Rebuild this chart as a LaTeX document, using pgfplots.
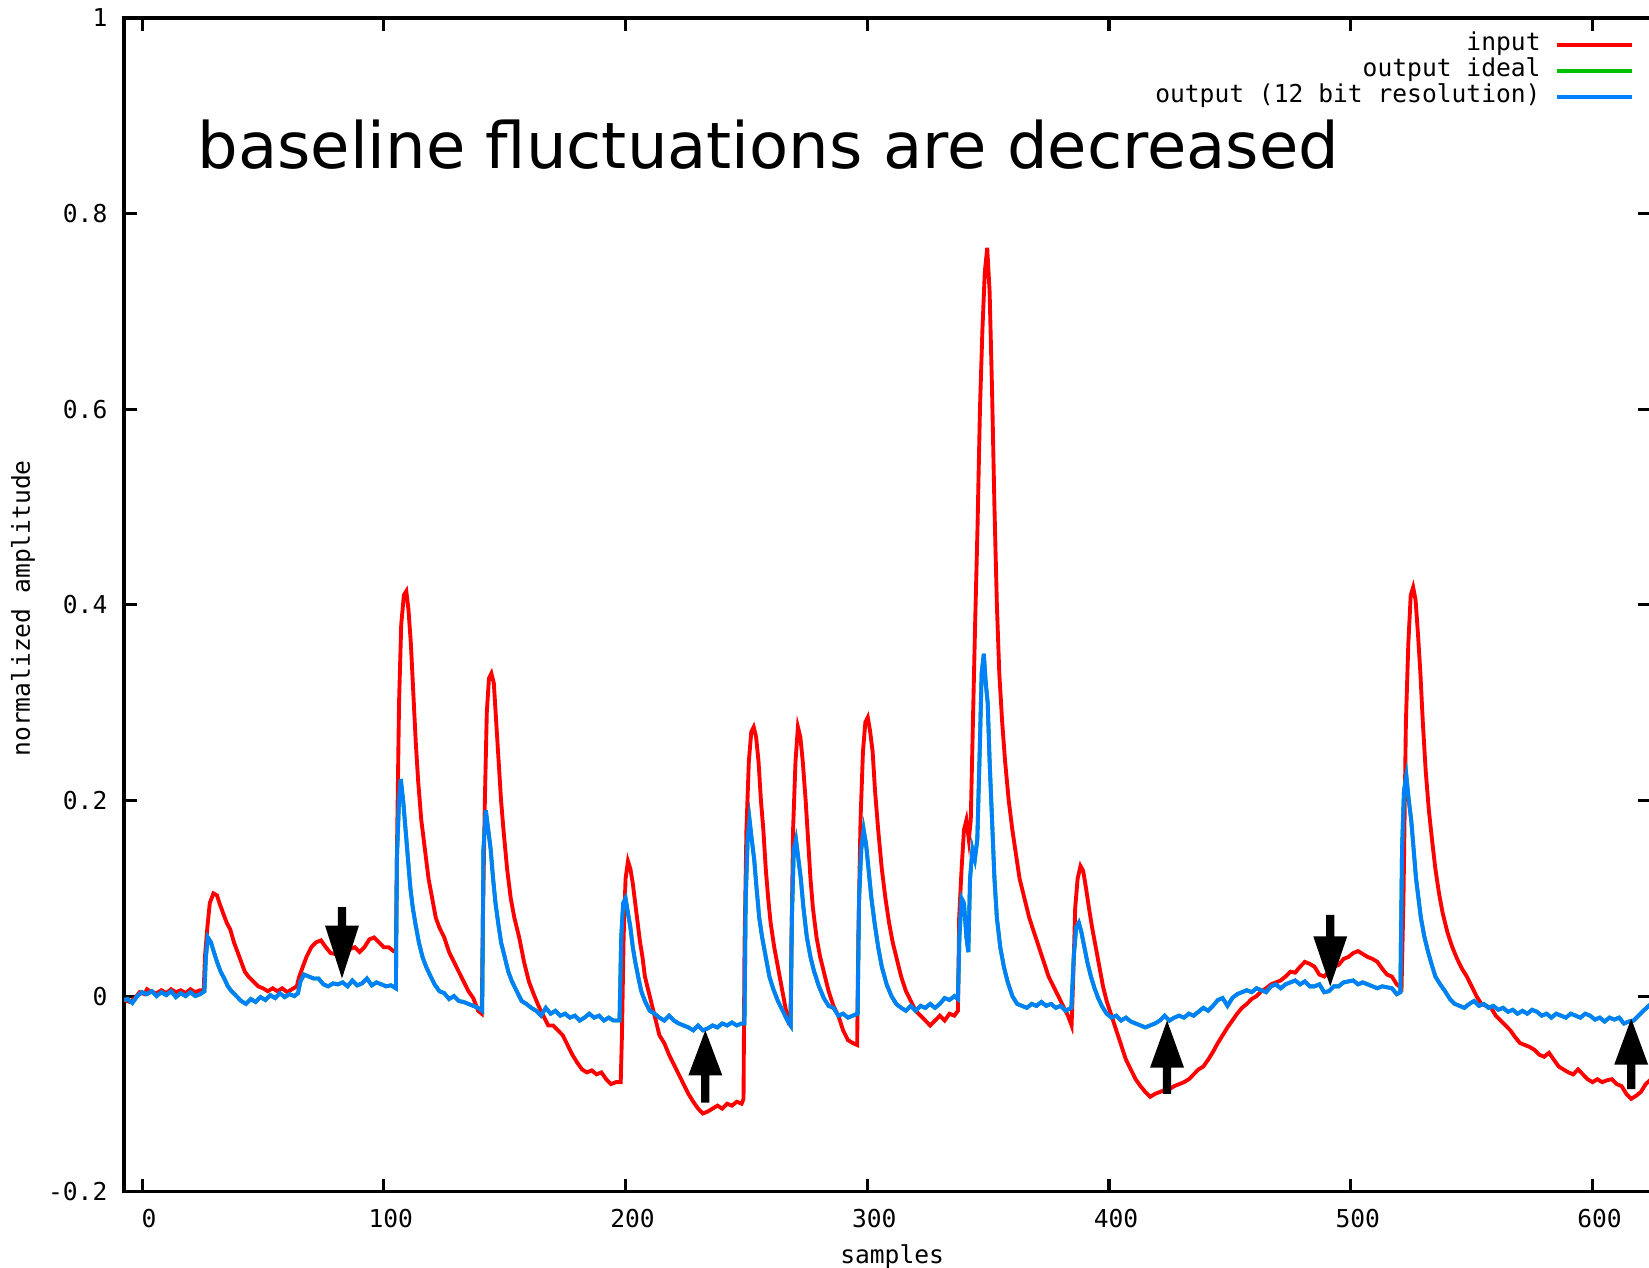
\documentclass[border=0pt]{standalone}
\usepackage{fontspec}
\setmainfont{DejaVu Sans Mono}
\newfontfamily\annot{DejaVu Sans}
\usepackage{pgfplots}
\usepackage{pgfplotstable}
\pgfplotsset{compat=1.18}

\definecolor{gpred}{RGB}{255,0,0}
\definecolor{gpgreen}{RGB}{0,192,0}
\definecolor{gpblue}{RGB}{0,128,255}

% input signal
\pgfplotstableread{
x y
-7.4 -0.004
-5 -0.006
-3 -0.002
-1 0.004
1 0.002
2 0.007
4 0.004
6 0.003
8 0.006
10 0.003
12 0.007
14 0.004
16 0.006
18 0.003
20 0.007
22 0.004
24 0.006
25.5 0.006
26 0.04
27 0.07
28 0.095
29.5 0.105
31 0.103
32 0.095
33.5 0.085
35 0.075
36.5 0.068
38 0.055
39.5 0.045
41 0.035
42.5 0.025
44 0.02
46 0.015
48 0.01
50 0.008
52 0.005
54 0.008
56 0.005
58 0.008
60 0.004
62 0.007
64 0.01
65 0.02
66.5 0.03
68 0.04
70 0.05
72 0.055
74 0.057
76 0.05
78 0.044
80 0.043
82 0.045
84 0.042
86 0.048
88 0.05
90 0.045
92 0.05
94 0.058
96 0.06
98 0.055
100 0.05
102 0.05
104 0.046
105 0.045
105.5 0.16
106.3 0.3
107.2 0.38
108.3 0.41
109.3 0.414
110.2 0.395
111.2 0.36
112.2 0.31
113.2 0.26
114.2 0.22
115.5 0.18
117 0.15
118.5 0.12
120 0.1
121.5 0.08
123 0.07
125 0.06
127 0.045
129 0.035
131 0.025
133 0.015
135 0.005
137 -0.002
139 -0.015
140.5 -0.018
141 0.08
141.8 0.2
142.6 0.29
143.5 0.325
144.5 0.33
145.5 0.32
146.5 0.28
147.5 0.24
148.5 0.2
149.5 0.17
151 0.13
152.5 0.1
154 0.08
156 0.06
158 0.035
160 0.015
162 0.002
164 -0.01
166 -0.02
168 -0.03
170 -0.03
172 -0.035
174 -0.04
176 -0.05
178 -0.06
180 -0.068
182 -0.075
184 -0.078
186 -0.076
188 -0.08
190 -0.078
192 -0.085
194 -0.09
196 -0.088
198 -0.088
198.5 -0.04
199.2 0.06
200 0.12
201 0.138
202 0.13
203 0.115
204 0.095
205 0.075
206 0.055
207 0.04
208 0.02
209.5 0.005
211 -0.01
212.5 -0.025
214 -0.04
216 -0.048
218 -0.06
220 -0.07
222 -0.08
224 -0.09
226 -0.1
228 -0.108
230 -0.115
232 -0.12
234 -0.118
236 -0.115
238 -0.112
240 -0.115
242 -0.11
244 -0.112
246 -0.108
248 -0.11
248.8 -0.105
249.2 0.05
250 0.17
251 0.24
252 0.27
253 0.275
254 0.265
255 0.24
256 0.2
257 0.17
258 0.13
259 0.1
260 0.075
261.5 0.05
263 0.03
264.5 0.01
266 -0.01
267.5 -0.028
268.2 -0.03
268.6 0.05
269.3 0.17
270.3 0.24
271.3 0.275
272.3 0.265
273.3 0.24
274.5 0.2
275.5 0.16
276.5 0.12
277.5 0.09
279 0.06
280.5 0.04
282 0.025
284 0.005
286 -0.01
288 -0.02
290 -0.035
292 -0.045
294 -0.048
295.8 -0.05
296.3 0.06
297.2 0.18
298.2 0.25
299.2 0.28
300.2 0.285
301.2 0.27
302.2 0.25
303.2 0.21
304.5 0.17
306 0.13
307.5 0.1
309 0.075
310.5 0.055
312 0.04
314 0.02
316 0.005
318 -0.005
320 -0.015
322 -0.02
324 -0.025
326 -0.03
328 -0.025
330 -0.02
332 -0.025
334 -0.018
336 -0.02
337.5 -0.015
338 0.08
339 0.13
340 0.17
341 0.18
342 0.16
342.8 0.18
343.6 0.27
344.6 0.38
345.6 0.48
346.6 0.6
347.6 0.68
348.6 0.74
349.6 0.765
350.6 0.72
351.6 0.62
352.6 0.5
353.6 0.4
354.6 0.33
355.8 0.28
357 0.24
358.5 0.2
360 0.17
361.5 0.145
363 0.12
365 0.1
367 0.08
369 0.065
371 0.05
373 0.035
375 0.02
377 0.01
379 0.0
381 -0.01
383 -0.02
384.5 -0.03
385.2 0.02
386 0.09
387 0.12
388.2 0.133
389.3 0.128
390.5 0.11
391.7 0.09
393 0.07
394.5 0.05
396 0.03
397.5 0.01
399 -0.005
401 -0.02
403 -0.035
405 -0.05
407 -0.065
409 -0.075
411 -0.085
413 -0.092
415 -0.098
417 -0.103
419 -0.1
421 -0.098
423 -0.096
425 -0.095
427 -0.092
429 -0.09
431 -0.088
433 -0.085
435 -0.08
437 -0.075
439 -0.072
441 -0.065
443 -0.057
445 -0.048
447 -0.04
449 -0.032
451 -0.025
453 -0.018
455 -0.012
457 -0.008
459 -0.003
461 0.0
463 0.005
465 0.008
467 0.012
469 0.014
471 0.016
473 0.02
475 0.025
477 0.024
479 0.03
481 0.035
483 0.033
485 0.03
487 0.022
489 0.02
491 0.025
493 0.03
495 0.032
497 0.038
499 0.04
501 0.044
503 0.046
505 0.043
507 0.04
509 0.038
511 0.035
513 0.028
515 0.022
517 0.02
519 0.012
521 0.008
521.8 0.1
522.8 0.28
523.8 0.36
524.8 0.41
525.8 0.418
526.8 0.405
527.8 0.37
528.8 0.33
529.8 0.28
531 0.23
532.3 0.19
533.6 0.16
535 0.13
536.5 0.105
538 0.085
540 0.065
542 0.05
544 0.038
546 0.028
548 0.02
550 0.01
552 0.0
554 -0.008
556 -0.01
558 -0.012
560 -0.02
562 -0.025
564 -0.03
566 -0.035
568 -0.042
570 -0.048
572 -0.05
574 -0.052
576 -0.055
578 -0.06
580 -0.062
582 -0.058
584 -0.065
586 -0.072
588 -0.075
590 -0.078
592 -0.08
594 -0.075
596 -0.08
598 -0.085
600 -0.088
602 -0.085
604 -0.088
606 -0.086
608 -0.085
610 -0.09
612 -0.092
614 -0.1
616 -0.105
618 -0.102
620 -0.098
622 -0.09
624.2 -0.085
}\inputdata

% output, 12 bit resolution (ideal output lies under it)
\pgfplotstableread{
x y
-7.4 -0.004
-6 -0.003
-4 -0.007
-2 0.0
0 0.004
2 0.002
4 0.005
6 0.0
8 0.004
10 0.001
12 0.005
14 -0.001
16 0.003
18 0.0
20 0.004
22 0.0
24 0.002
25.8 0.005
26.4 0.04
27.2 0.06
28.5 0.055
29.7 0.045
31 0.035
32.5 0.025
34 0.018
35.5 0.01
37 0.005
39 0.0
41 -0.005
43 -0.008
45 -0.003
47 -0.006
49 -0.001
51 -0.004
53 0.001
55 -0.002
57 0.003
59 -0.001
61 0.002
63 0.0
64.5 0.003
65.5 0.015
67 0.022
69 0.02
71 0.018
73 0.018
75 0.012
77 0.01
79 0.013
81 0.012
83 0.014
85 0.01
87 0.016
89 0.011
91 0.013
93 0.018
95 0.011
97 0.014
99 0.012
101 0.01
103 0.011
105 0.008
105.4 0.14
106.3 0.2
107 0.222
108 0.2
109 0.17
110 0.14
111 0.11
112 0.09
113 0.075
114.5 0.055
116 0.04
117.5 0.03
119 0.022
121 0.012
123 0.005
125 0.003
127 -0.003
129 0.0
131 -0.005
133 -0.006
135 -0.008
137 -0.01
139 -0.012
140.7 -0.015
141.2 0.15
142.2 0.19
143.2 0.17
144.2 0.15
145.2 0.12
146.2 0.095
147.3 0.075
148.5 0.055
150 0.04
151.5 0.025
153 0.015
155 0.005
157 -0.005
159 -0.008
161 -0.012
163 -0.015
165 -0.02
167 -0.012
169 -0.018
171 -0.015
173 -0.02
175 -0.018
177 -0.022
179 -0.02
181 -0.025
183 -0.022
185 -0.018
187 -0.022
189 -0.02
191 -0.025
193 -0.022
195 -0.025
197.5 -0.025
198.2 0.06
199 0.095
200 0.1
201 0.085
202 0.07
203 0.05
204 0.035
205.2 0.02
206.5 0.005
208 -0.005
210 -0.015
212 -0.018
214 -0.022
216 -0.025
218 -0.02
220 -0.025
222 -0.028
224 -0.03
226 -0.032
228 -0.035
230 -0.03
232 -0.035
234 -0.033
236 -0.03
238 -0.032
240 -0.028
242 -0.03
244 -0.027
246 -0.03
248 -0.028
249.2 -0.028
249.7 0.1
250.5 0.16
251.3 0.18
252.2 0.16
253.2 0.14
254.2 0.11
255.3 0.08
256.5 0.06
258 0.04
259.5 0.02
261 0.008
263 -0.005
265 -0.015
267 -0.025
268.3 -0.03
268.8 0.08
269.6 0.15
270.5 0.16
271.5 0.14
272.5 0.12
273.6 0.09
275 0.06
276.5 0.04
278 0.025
280 0.01
282 -0.002
284 -0.01
286 -0.012
288 -0.02
290 -0.018
292 -0.022
294 -0.02
296 -0.018
296.6 0.1
297.5 0.15
298.5 0.17
299.5 0.155
300.5 0.13
301.7 0.1
303 0.075
304.5 0.05
306 0.03
308 0.012
310 0.0
312 -0.008
314 -0.012
316 -0.015
318 -0.01
320 -0.015
322 -0.01
324 -0.012
326 -0.008
328 -0.012
330 -0.008
332 -0.002
334 -0.004
336 0.0
337.5 -0.003
338.1 0.06
339 0.1
340 0.095
341 0.06
341.8 0.045
342.5 0.12
343.5 0.15
344.5 0.14
345.5 0.16
346.5 0.25
347.3 0.33
348.2 0.35
349 0.32
349.8 0.3
350.6 0.24
351.6 0.18
352.6 0.12
353.6 0.08
355 0.05
356.5 0.03
358 0.015
360 0.0
362 -0.008
364 -0.01
366 -0.012
368 -0.008
370 -0.01
372 -0.006
374 -0.01
376 -0.008
378 -0.012
380 -0.01
382 -0.015
384.4 -0.012
385.4 0.04
386.4 0.07
387.5 0.075
388.6 0.065
389.8 0.05
391 0.035
392.5 0.02
394 0.008
395.5 -0.002
397 -0.01
399 -0.018
401 -0.022
403 -0.02
405 -0.025
407 -0.022
409 -0.026
411 -0.028
413 -0.03
415 -0.032
417 -0.03
419 -0.028
421 -0.025
423 -0.02
425 -0.025
427 -0.022
429 -0.02
431 -0.022
433 -0.018
435 -0.02
437 -0.016
439 -0.012
441 -0.015
443 -0.01
445 -0.004
447 -0.002
449 -0.01
451 -0.002
453 0.002
455 0.004
457 0.006
459 0.004
461 0.008
463 0.006
465 0.004
467 0.01
469 0.012
471 0.008
473 0.012
475 0.014
477 0.016
479 0.012
481 0.015
483 0.01
485 0.01
487 0.012
489 0.004
491 0.005
493 0.01
495 0.01
497 0.014
499 0.015
501 0.016
503 0.012
505 0.014
507 0.012
509 0.01
511 0.008
513 0.01
515 0.009
517 0.008
519 0.002
520.5 0.004
521.2 0.15
522 0.21
523 0.225
524 0.2
525 0.18
526 0.15
527 0.12
528 0.1
529 0.08
530.5 0.06
532 0.045
533.5 0.032
535 0.02
537 0.012
539 0.005
541 -0.003
543 -0.008
545 -0.01
547 -0.012
549 -0.008
551 -0.005
553 -0.01
555 -0.008
557 -0.012
559 -0.01
561 -0.014
563 -0.012
565 -0.016
567 -0.014
569 -0.018
571 -0.015
573 -0.018
575 -0.014
577 -0.016
579 -0.02
581 -0.018
583 -0.022
585 -0.018
587 -0.02
589 -0.022
591 -0.018
593 -0.02
595 -0.022
597 -0.018
599 -0.02
601 -0.024
603 -0.022
605 -0.026
607 -0.022
609 -0.024
611 -0.022
613 -0.028
615 -0.026
617 -0.025
619 -0.02
621 -0.015
624.2 -0.008
}\outdata

\begin{document}
\begin{tikzpicture}
\begin{axis}[
  scale only axis,
  width=15.26cm, height=11.73cm,
  xmin=-7.45, xmax=624.2, ymin=-0.2, ymax=1,
  xtick={0,100,...,600},
  ytick={-0.2,0,0.2,0.4,0.6,0.8,1},
  tick align=inside,
  major tick length=0.13cm,
  tick style={black, line width=0.9pt},
  axis line style={line width=1pt},
  /pgf/number format/assume math mode=true,
  ticklabel style={font=\fontsize{7}{8}\selectfont},
  yticklabel style={inner sep=0pt, xshift=-0.16cm},
  xticklabel style={inner sep=0pt, yshift=-0.17cm, xshift=0.07cm},
  xlabel={samples}, ylabel={normalized amplitude},
  label style={font=\fontsize{7}{8}\selectfont},
  xlabel style={at={(axis description cs:0.503,-0.0554)}, anchor=center},
  ylabel style={at={(axis description cs:-0.0662,0.497)}, anchor=center},
  legend cell align=right,
  legend plot pos=right,
  legend image code/.code={\draw[#1] (0cm,0cm) -- (0.75cm,0cm);},
  legend style={at={(axis description cs:0.989,0.9885)}, anchor=north east,
    draw=none, fill=none, inner sep=0pt, column sep=0.14cm, row sep=0pt,
    font=\fontsize{7}{8}\selectfont,
    nodes={inner sep=0pt, text height=5.2pt, text depth=2.2pt}},
]
\addplot[color=gpred, line width=1.1pt] table[x=x, y=y] {\inputdata};
\addlegendentry{input}
\addplot[color=gpgreen, line width=1.1pt] table[x=x, y=y] {\outdata};
\addlegendentry{output ideal}
\addplot[color=gpblue, line width=1.1pt] table[x=x, y=y] {\outdata};
\addlegendentry{output (12 bit resolution)}

\node[anchor=base west, inner sep=0pt, font=\annot\fontsize{18.2}{21}\selectfont]
  at (axis cs:22.6,0.846) {baseline fluctuations are decreased};

% arrows
\fill (axis cs:81,0.091) -- (axis cs:84.4,0.091) -- (axis cs:84.4,0.072) -- (axis cs:89.7,0.072)
  -- (axis cs:82.7,0.018) -- (axis cs:75.7,0.072) -- (axis cs:81,0.072) -- cycle;
\fill (axis cs:489.8,0.083) -- (axis cs:493.2,0.083) -- (axis cs:493.2,0.061) -- (axis cs:498.5,0.061)
  -- (axis cs:491.5,0.01) -- (axis cs:484.5,0.061) -- (axis cs:489.8,0.061) -- cycle;
\fill (axis cs:231.3,-0.109) -- (axis cs:234.7,-0.109) -- (axis cs:234.7,-0.081) -- (axis cs:240,-0.081)
  -- (axis cs:233,-0.035) -- (axis cs:226,-0.081) -- (axis cs:231.3,-0.081) -- cycle;
\fill (axis cs:422.3,-0.1) -- (axis cs:425.7,-0.1) -- (axis cs:425.7,-0.073) -- (axis cs:431,-0.073)
  -- (axis cs:424,-0.025) -- (axis cs:417,-0.073) -- (axis cs:422.3,-0.073) -- cycle;
\fill (axis cs:614.3,-0.095) -- (axis cs:617.7,-0.095) -- (axis cs:617.7,-0.07) -- (axis cs:623,-0.07)
  -- (axis cs:616,-0.023) -- (axis cs:609,-0.07) -- (axis cs:614.3,-0.07) -- cycle;
\end{axis}
\pgfresetboundingbox
\useasboundingbox ([xshift=-1.24cm, yshift=-0.76cm]current axis.south west)
  rectangle ([xshift=-0.02cm, yshift=0.18cm]current axis.north east);
\end{tikzpicture}
\end{document}
